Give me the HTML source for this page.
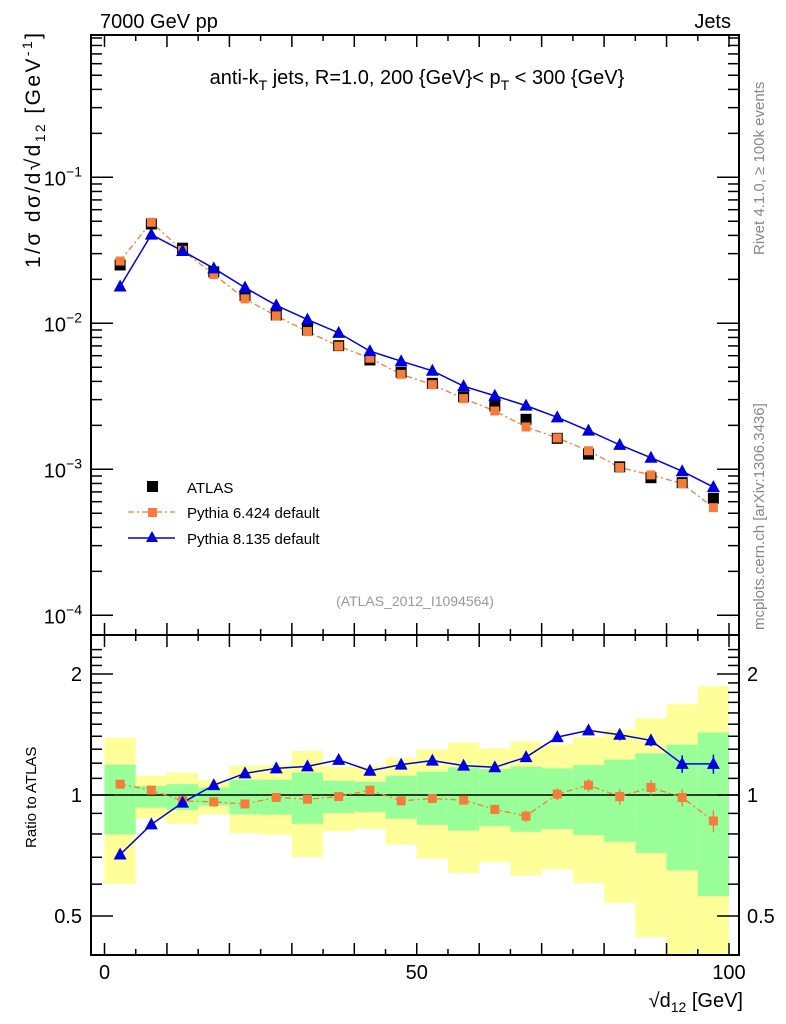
<!DOCTYPE html>
<html><head><meta charset="utf-8"><style>
body{margin:0;background:#fff;}
svg{display:block;font-family:"Liberation Sans",sans-serif;}
</style></head><body>
<svg id="chart" width="786" height="1024" xmlns="http://www.w3.org/2000/svg">
<g id="bands"></g>
<g id="grid"></g>
<g id="series"></g>
<text x="100" y="28" font-size="20">7000 GeV pp</text>
<text x="731" y="28" font-size="20" text-anchor="end">Jets</text>
<text x="417" y="84" font-size="20" text-anchor="middle">anti-k<tspan font-size="14" dy="6">T</tspan><tspan dy="-6"> jets, R=1.0, 200 {GeV}&lt; p</tspan><tspan font-size="14" dy="6">T</tspan><tspan dy="-6"> &lt; 300 {GeV}</tspan></text>
<text transform="translate(40,268) rotate(-90)" font-size="21" text-anchor="start" textLength="235" lengthAdjust="spacing">1/σ dσ/d√d<tspan font-size="14" dy="5">12</tspan><tspan dy="-5"> [GeV</tspan><tspan font-size="14" dy="-8">-1</tspan><tspan dy="8">]</tspan></text>
<text transform="translate(36,848) rotate(-90)" font-size="15">Ratio to ATLAS</text>
<text x="743" y="1007" font-size="20" text-anchor="end">√d<tspan font-size="14" dy="5">12</tspan><tspan dy="-5"> [GeV]</tspan></text>
<text transform="translate(764,255) rotate(-90)" font-size="15" fill="#888">Rivet 4.1.0, ≥ 100k events</text>
<text transform="translate(764,630) rotate(-90)" font-size="15" fill="#888">mcplots.cern.ch [arXiv:1306.3436]</text>
<text x="415" y="606" font-size="14" fill="#999" text-anchor="middle">(ATLAS_2012_I1094564)</text>
<g>
<rect x="147" y="481" width="11" height="11" fill="#000"/>
<text x="187" y="493" font-size="15">ATLAS</text>
<line x1="128" y1="512" x2="175" y2="512" stroke="#f57c3a" stroke-width="1.3" stroke-dasharray="6,3,2,3"/>
<rect x="148" y="508" width="9" height="9" fill="#f57c3a"/>
<text x="187" y="518" font-size="15">Pythia 6.424 default</text>
<line x1="128" y1="538" x2="175" y2="538" stroke="#0000dd" stroke-width="1.5"/>
<polygon points="152,531 158,542 146,542" fill="#0000dd"/>
<text x="187" y="544" font-size="15">Pythia 8.135 default</text>
</g>
</svg>
<script>
const xCenters=[2.5,7.5,12.5,17.5,22.5,27.5,32.5,37.5,42.5,47.5,52.5,57.5,62.5,67.5,72.5,77.5,82.5,87.5,92.5,97.5];
const atlas=[0.0251,0.0479,0.0327,0.0225,0.0155,0.0114,0.0090,0.00703,0.00561,0.00462,0.00388,0.00314,0.00272,0.0022,0.00163,0.00127,0.00104,0.000876,0.00081,0.000633];
const py6=[0.0267,0.0492,0.0316,0.0216,0.0147,0.01124,0.00878,0.00697,0.00577,0.00447,0.0038,0.00305,0.00251,0.00195,0.00164,0.00134,0.00103,0.000915,0.000799,0.000546];
const py8=[0.01785,0.0405,0.0313,0.0238,0.01755,0.01328,0.0106,0.0086,0.00645,0.0055,0.00473,0.00371,0.00319,0.00273,0.00227,0.00184,0.00147,0.0012,0.00097,0.000756];
const r6=[1.064,1.028,0.967,0.961,0.95,0.986,0.976,0.991,1.028,0.967,0.98,0.971,0.921,0.886,1.005,1.058,0.991,1.044,0.986,0.862];
const r8=[0.711,0.845,0.957,1.058,1.132,1.165,1.178,1.223,1.149,1.19,1.218,1.183,1.172,1.242,1.393,1.448,1.412,1.367,1.195,1.195];
const err6=[0.01,0.01,0.01,0.01,0.01,0.01,0.012,0.012,0.015,0.015,0.02,0.022,0.025,0.03,0.035,0.04,0.045,0.045,0.05,0.055];
const err8=[0.01,0.01,0.01,0.01,0.01,0.01,0.012,0.012,0.015,0.015,0.02,0.022,0.025,0.03,0.035,0.04,0.045,0.045,0.06,0.065];
const yelHi=[1.388,1.117,1.136,1.089,1.183,1.19,1.287,1.177,1.18,1.237,1.298,1.351,1.305,1.359,1.335,1.393,1.454,1.551,1.682,1.866];
const yelLo=[0.601,0.873,0.848,0.895,0.803,0.796,0.701,0.813,0.824,0.753,0.694,0.64,0.682,0.631,0.653,0.604,0.539,0.443,0.3,0.3];
const grnHi=[1.19,1.054,1.064,1.044,1.092,1.092,1.138,1.085,1.079,1.117,1.143,1.172,1.16,1.177,1.165,1.187,1.225,1.27,1.335,1.431];
const grnLo=[0.798,0.93,0.918,0.941,0.895,0.893,0.848,0.902,0.908,0.873,0.843,0.815,0.837,0.81,0.823,0.795,0.765,0.718,0.649,0.56];
const xTicks=[0,50,100];
const ratioTicks=[0.5,1,2];
const mainTicks=[-4,-3,-2,-1];

const NS='http://www.w3.org/2000/svg';
const L=91,R=739,T=35,MID=635,B=955;
const X=v=>104.5+v*6.245;
const Y=v=>323.3-146*Math.log10(v/0.01);
const YR=v=>795-402*Math.log10(v);
const cl=(y,a,b)=>Math.max(a,Math.min(b,y));
function mk(p,tag,at){const e=document.createElementNS(NS,tag);for(const k in at)e.setAttribute(k,at[k]);p.appendChild(e);return e;}
const bands=document.getElementById('bands'),grid=document.getElementById('grid'),ser=document.getElementById('series');

xCenters.forEach((c,i)=>{
 const x0=X(c-2.5),x1=X(c+2.5);
 let y1=cl(YR(yelHi[i]),MID,B),y2=cl(YR(yelLo[i]),MID,B);
 const ry=mk(bands,'rect',{x:x0,y:y1,width:x1-x0,height:y2-y1,fill:'#ffff99'});
 
 
 y1=cl(YR(grnHi[i]),MID,B);y2=cl(YR(grnLo[i]),MID,B);
 const rg=mk(bands,'rect',{x:x0,y:y1,width:x1-x0,height:y2-y1,fill:'#99ff99'});
 
 
});

mk(grid,'rect',{x:L,y:T,width:R-L,height:B-T,fill:'none',stroke:'#000','stroke-width':2});
mk(grid,'line',{x1:L,y1:MID,x2:R,y2:MID,stroke:'#000','stroke-width':2});
mk(grid,'line',{x1:L,y1:YR(1),x2:R,y2:YR(1),stroke:'#000','stroke-width':1.5});
for(let v=0;v<=100;v+=5){const len=v%10===0?12:6;
 [[B,-1],[MID,-1],[MID,1],[T,1]].forEach(([y0,d])=>mk(grid,'line',{x1:X(v),y1:y0,x2:X(v),y2:y0+d*len,stroke:'#000','stroke-width':1.5}));}
xTicks.forEach(v=>{const t=mk(grid,'text',{x:X(v),y:979,'font-size':20,'text-anchor':'middle'});t.textContent=v;
 
 });
for(let d=-4;d<=-1;d++){for(let m=1;m<10;m++){const v=m*Math.pow(10,d);const y=Y(v);if(y<T||y>MID)continue;const len=m===1?22:11;
 mk(grid,'line',{x1:L,y1:y,x2:L+len,y2:y,stroke:'#000','stroke-width':1.5});
 mk(grid,'line',{x1:R,y1:y,x2:R-len,y2:y,stroke:'#000','stroke-width':1.5});}}
mainTicks.forEach(d=>{const t=mk(grid,'text',{x:82,y:Y(Math.pow(10,d))+8,'font-size':20,'text-anchor':'end'});
 t.innerHTML='10<tspan font-size="14" dy="-9">−'+(-d)+'</tspan>';
 
 });
[0.4,0.5,0.6,0.7,0.8,0.9,1,1.1,1.2,1.3,1.4,1.5,1.6,1.7,1.8,1.9,2,2.1,2.2,2.3].forEach(v=>{const y=YR(v);if(y<MID||y>B)return;const len=[0.5,1,2].includes(v)?22:11;
 mk(grid,'line',{x1:L,y1:y,x2:L+len,y2:y,stroke:'#000','stroke-width':1.5});
 mk(grid,'line',{x1:R,y1:y,x2:R-len,y2:y,stroke:'#000','stroke-width':1.5});});
ratioTicks.forEach(v=>{[[82,'end'],[747,'start']].forEach(([x,a])=>{const t=mk(grid,'text',{x:x,y:YR(v)+7,'font-size':20,'text-anchor':a});t.textContent=v;
 
 });});

function tri(g,x,y,n){const p=mk(g,'polygon',{points:`${x},${y-7} ${x+6.5},${y+5} ${x-6.5},${y+5}`,fill:'#0000dd'});
 
 }
mk(ser,'polyline',{points:xCenters.map((c,i)=>X(c)+','+Y(py6[i])).join(' '),fill:'none',stroke:'#f57c3a','stroke-width':1.3,'stroke-dasharray':'6,3,2,3'});
mk(ser,'polyline',{points:xCenters.map((c,i)=>X(c)+','+Y(py8[i])).join(' '),fill:'none',stroke:'#0000dd','stroke-width':1.5});
xCenters.forEach((c,i)=>{
 const a=mk(ser,'rect',{x:X(c)-5.5,y:Y(atlas[i])-5.5,width:11,height:11,fill:'#000'});
 
 
 const p=mk(ser,'rect',{x:X(c)-4.5,y:Y(py6[i])-4.5,width:9,height:9,fill:'#f57c3a'});
 
 
 tri(ser,X(c),Y(py8[i]),'pythia8-point');
});
mk(ser,'polyline',{points:xCenters.map((c,i)=>X(c)+','+YR(r6[i])).join(' '),fill:'none',stroke:'#f57c3a','stroke-width':1.3,'stroke-dasharray':'6,3,2,3'});
mk(ser,'polyline',{points:xCenters.map((c,i)=>X(c)+','+YR(r8[i])).join(' '),fill:'none',stroke:'#0000dd','stroke-width':1.5});
xCenters.forEach((c,i)=>{const x=X(c);
 mk(ser,'line',{x1:x,y1:YR(r6[i]+err6[i]),x2:x,y2:YR(r6[i]-err6[i]),stroke:'#f57c3a','stroke-width':1.3});
 mk(ser,'line',{x1:x,y1:YR(r8[i]+err8[i]),x2:x,y2:YR(r8[i]-err8[i]),stroke:'#0000dd','stroke-width':1.5});
 const p=mk(ser,'rect',{x:x-4.5,y:YR(r6[i])-4.5,width:9,height:9,fill:'#f57c3a'});
 
 
 tri(ser,x,YR(r8[i]),'pythia8-ratio-point');
});
</script>
</body></html>
